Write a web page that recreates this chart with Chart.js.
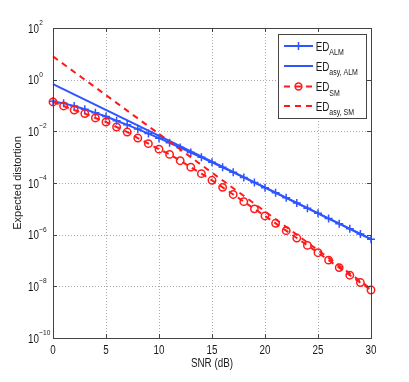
<!DOCTYPE html>
<html><head><meta charset="utf-8">
<script src="https://cdn.jsdelivr.net/npm/chart.js@4/dist/chart.umd.min.js"></script>
<style>html,body{margin:0;padding:0;background:#fff;}#wrap{width:409px;height:382px;}</style>
</head><body><div id="wrap"><canvas id="c" width="409" height="382"></canvas></div>
<script>
// ---- data ----
const snr = [0,1,2,3,4,5,6,7,8,9,10,11,12,13,14,15,16,17,18,19,20,21,22,23,24,25,26,27,28,29,30];
const edALM = [1.45e-1,1.21e-1,9.5e-2,7.2e-2,5.2e-2,3.74e-2,2.58e-2,1.78e-2,1.22e-2,8.2e-3,5.44e-3,3.59e-3,2.35e-3,1.52e-3,9.9e-4,6.3e-4,4.06e-4,2.58e-4,1.64e-4,1.04e-4,6.6e-5,4.2e-5,2.66e-5,1.68e-5,1.06e-5,6.7e-6,4.2e-6,2.66e-6,1.68e-6,1.06e-6,6.7e-7];
const edSM = [1.37e-1,9.6e-2,6.7e-2,4.87e-2,3.29e-2,2.3e-2,1.47e-2,9.4e-3,5.5e-3,3.33e-3,2.04e-3,1.28e-3,7.3e-4,4.1e-4,2.3e-4,1.27e-4,6.8e-5,3.6e-5,1.9e-5,1.0e-5,5.3e-6,2.75e-6,1.43e-6,7.4e-7,3.85e-7,2.0e-7,1.03e-7,5.3e-8,2.7e-8,1.4e-8,7.2e-9];
const snrAsy = [0,30];
const edAsyALM = [6.68e-1,6.68e-7];
const edAsySM = [7.94,7.94e-9];
const seriesLabels = ['ED_ALM','ED_asy, ALM','ED_SM','ED_asy, SM'];
const xTicks = [0,5,10,15,20,25,30];
const yTickExps = [2,0,-2,-4,-6,-8,-10];
const xTitle = 'SNR (dB)';
const yTitle = 'Expected distortion';

const BLUE = '#2f55ff', RED = '#ff1a1a', AXIS = '#444', TXT = '#1a1a1a';
const FONT = "'Liberation Sans',Arial,Helvetica,sans-serif";
const SX = 0.82; // horizontal squeeze of the reference's horizontal texts
const pts = (xs, ys) => xs.map((v,i)=>({x:v,y:ys[i]}));

function txt(ctx, s, x, y, size, align){
  ctx.save();
  ctx.translate(x,y); ctx.scale(SX,1);
  ctx.font = size+'px '+FONT; ctx.textAlign = align||'left'; ctx.textBaseline='alphabetic';
  ctx.fillStyle = TXT; ctx.fillText(s,0,0);
  const w = ctx.measureText(s).width*SX;
  ctx.restore();
  return w;
}

const framePlugin = {
  id:'frame',
  beforeDatasetsDraw(chart){
    const {ctx, chartArea:a, scales:{x,y}} = chart;
    ctx.save();
    ctx.strokeStyle='#aaa'; ctx.lineWidth=1; ctx.setLineDash([1,2]);
    ctx.beginPath();
    xTicks.forEach(v=>{const p=Math.round(x.getPixelForValue(v))+0.5; ctx.moveTo(p,a.top); ctx.lineTo(p,a.bottom);});
    yTickExps.forEach(e=>{const p=Math.round(y.getPixelForValue(Math.pow(10,e)))+0.5; ctx.moveTo(a.left,p); ctx.lineTo(a.right,p);});
    ctx.stroke();
    ctx.restore();
  },
  afterDraw(chart){
    const {ctx, chartArea:a, scales:{x,y}} = chart;
    ctx.save();
    ctx.strokeStyle=AXIS; ctx.lineWidth=1; ctx.setLineDash([]);
    ctx.beginPath();
    xTicks.forEach(v=>{const p=Math.round(x.getPixelForValue(v))+0.5;
      ctx.moveTo(p,a.bottom); ctx.lineTo(p,a.bottom-4); ctx.moveTo(p,a.top); ctx.lineTo(p,a.top+4);});
    yTickExps.forEach(e=>{const p=Math.round(y.getPixelForValue(Math.pow(10,e)))+0.5;
      ctx.moveTo(a.left,p); ctx.lineTo(a.left+4,p); ctx.moveTo(a.right,p); ctx.lineTo(a.right-4,p);});
    ctx.stroke();
    ctx.strokeRect(Math.round(a.left)+0.5, Math.round(a.top)+0.5, Math.round(a.right-a.left), Math.round(a.bottom-a.top));
    // x tick labels and title
    xTicks.forEach(v=>{ txt(ctx, String(v), x.getPixelForValue(v), a.bottom+16, 12, 'center'); });
    txt(ctx, xTitle, (a.left+a.right)/2, a.bottom+29, 12, 'center');
    // y tick labels 10^e
    yTickExps.forEach(e=>{
      const p=y.getPixelForValue(Math.pow(10,e));
      const w=txt(ctx,'10',28,p+4.5,12,'left');
      txt(ctx,String(e).replace('-','\u2212'),28+w+0.3,p-3,8,'left');
    });
    // legend
    const L=278.5,T=34.5,W=88,H=84;
    ctx.fillStyle='#fff'; ctx.fillRect(L,T,W,H);
    ctx.strokeStyle=AXIS; ctx.strokeRect(L,T,W,H);
    const rows=[46,66,86.5,106];
    chart.data.datasets.forEach((ds,i)=>{
      const yy=rows[i];
      ctx.save();
      ctx.strokeStyle=ds.borderColor; ctx.lineWidth=2;
      ctx.setLineDash(ds.borderDash||[]);
      ctx.beginPath(); ctx.moveTo(284,yy); ctx.lineTo(313,yy); ctx.stroke();
      ctx.setLineDash([]); ctx.lineWidth=1.5;
      if(ds.pointStyle==='cross'){ctx.beginPath();ctx.moveTo(298.5,yy-4);ctx.lineTo(298.5,yy+4);ctx.moveTo(294.5,yy);ctx.lineTo(302.5,yy);ctx.stroke();}
      if(ds.pointStyle==='circle' && ds.pointRadius>0){ctx.beginPath();ctx.arc(298.5,yy,3.4,0,Math.PI*2);ctx.stroke();}
      ctx.restore();
      const parts=ds.label.split('_');
      const w=txt(ctx,parts[0],315.7,yy+4.5,12,'left');
      txt(ctx,parts[1],315.7+w,yy+9,8.5,'left');
    });
    ctx.restore();
  }
};

new Chart(document.getElementById('c'),{
  type:'line',
  data:{datasets:[
    {label:seriesLabels[0],data:pts(snr,edALM),borderColor:BLUE,backgroundColor:BLUE,borderWidth:2,pointStyle:'cross',pointRadius:4,pointBorderWidth:1.5,pointBorderColor:BLUE,order:4,clip:false},
    {label:seriesLabels[1],data:pts(snrAsy,edAsyALM),borderColor:BLUE,borderWidth:2,pointRadius:0,order:3,clip:false},
    {label:seriesLabels[2],data:pts(snr,edSM),borderColor:RED,backgroundColor:'rgba(0,0,0,0)',borderWidth:2,borderDash:[6,5],pointStyle:'circle',pointRadius:3.7,pointBorderWidth:1.5,pointBorderColor:RED,order:2,clip:false},
    {label:seriesLabels[3],data:pts(snrAsy,edAsySM),borderColor:RED,borderWidth:2,borderDash:[6,5],pointRadius:0,order:1,clip:false}
  ]},
  options:{
    responsive:false, animation:false, devicePixelRatio:1,
    layout:{padding:{left:0,right:38,top:28,bottom:0}},
    plugins:{legend:{display:false},tooltip:{enabled:false}},
    elements:{line:{tension:0}},
    scales:{
      x:{type:'linear',min:0,max:30,
        grid:{display:false},border:{display:false},
        afterBuildTicks:s=>{s.ticks=xTicks.map(v=>({value:v}));},
        afterFit:s=>{s.height=44;},
        ticks:{display:false},
        title:{display:false,text:xTitle}},
      y:{type:'logarithmic',min:1e-10,max:1e2,
        grid:{display:false},border:{display:false},
        afterBuildTicks:s=>{s.ticks=yTickExps.map(e=>({value:Math.pow(10,e)}));},
        afterFit:s=>{s.width=53;},
        ticks:{display:false},
        title:{display:true,text:yTitle,color:TXT,font:{family:FONT,size:11},padding:{top:11,bottom:0}}}
    }
  },
  plugins:[framePlugin]
});
</script></body></html>
